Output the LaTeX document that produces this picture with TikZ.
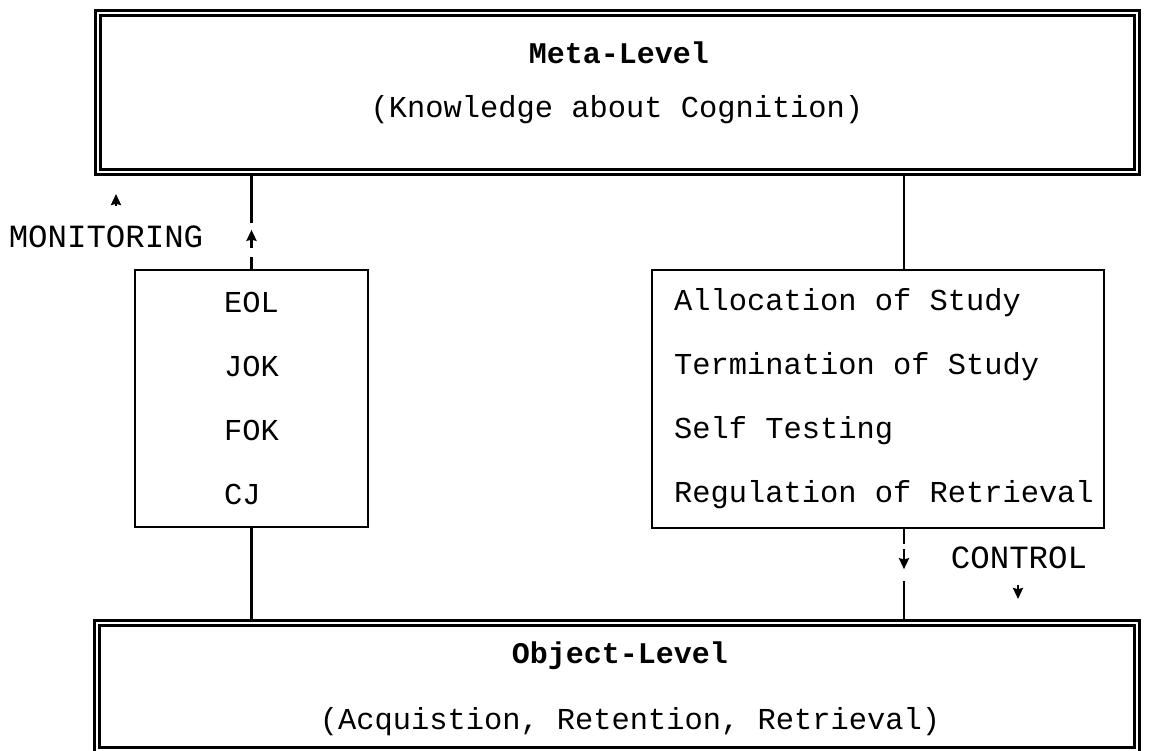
\documentclass[tikz,border=0pt]{standalone}
\usepackage{fontspec}
\setmonofont{Liberation Mono}
\usetikzlibrary{arrows.meta}

\tikzset{
  levelbox/.style={draw, double, line width=1.2pt, double distance=1.2pt, inner sep=0pt},
  listbox/.style={draw, line width=1.2pt, inner sep=0pt, align=left},
  title/.style={font=\ttfamily\bfseries\fontsize{15}{18}\selectfont},
  tag/.style={font=\ttfamily\fontsize{16.2}{19}\selectfont},
  link/.style={line width=1.3pt},
  arr/.style={line width=1.3pt, -{Stealth[length=5.5pt,width=5pt,inset=0.6pt]}},
}

\begin{document}
\begin{tikzpicture}[x=0.5pt, y=-0.5pt, font=\ttfamily\fontsize{15.2}{32}\selectfont] % metamemory
          \useasboundingbox (0,0) rectangle (1162,750);

          \node[levelbox, minimum width=519.5pt, minimum height=79.5pt] (meta) at (617.5,92.5) {};
          \node[title] (metatitle) at (619,53) {Meta-Level};
          \node (metanote) at (617,110) {(Knowledge about Cognition)};

          \node[levelbox, minimum width=520pt, minimum height=63.5pt] (obj) at (617,686.5) {};
          \node[title] (objtitle) at (620,656) {Object-Level};
          \node (objnote) at (630,722) {(Acquistion, Retention, Retrieval)};

          \node[listbox, minimum width=116.5pt, minimum height=128.5pt] (judg) at (251.5,398.5) {EOL\\JOK\\FOK\\CJ};
          \node[listbox, minimum width=226pt, minimum height=129pt] (ctrl) at (878,399) {};
          \node[anchor=west, align=left, inner sep=0pt] (ctrllist) at ([xshift=11.5pt]ctrl.west)
               {Allocation of Study\\Termination of Study\\Self Testing\\Regulation of Retrieval};

          % monitoring
          \draw[link] (judg.north |- meta.south) -- ++(0,50);
          \draw[arr] (judg.north) ++(0,-21) -- ++(0,-18);
          \draw[link] (judg.north) -- ++(0,-12);
          \node[tag] (mon) at (106,237) {MONITORING};
          \coordinate (montip) at (116,194);
          \draw[arr] (montip) ++(0,12) -- (montip);

          % control
          \draw[link] ([xshift=13pt]ctrl.north) -- ([xshift=13pt]ctrl.north |- meta.south);
          \draw[link] ([xshift=13pt]ctrl.south) -- ++(0,15);
          \draw[arr] ([xshift=13pt]ctrl.south) ++(0,20) -- ++(0,20);
          \draw[link] ([xshift=13pt]ctrl.south |- obj.north) -- ++(0,-41);
          \node[tag] (con) at (1019,558) {CONTROL};
          \coordinate (contip) at (1018,599);
          \draw[arr] (contip) ++(0,-14) -- (contip);

          \draw[link] (judg.south) -- (judg.south |- obj.north);
        \end{tikzpicture}
\end{document}
